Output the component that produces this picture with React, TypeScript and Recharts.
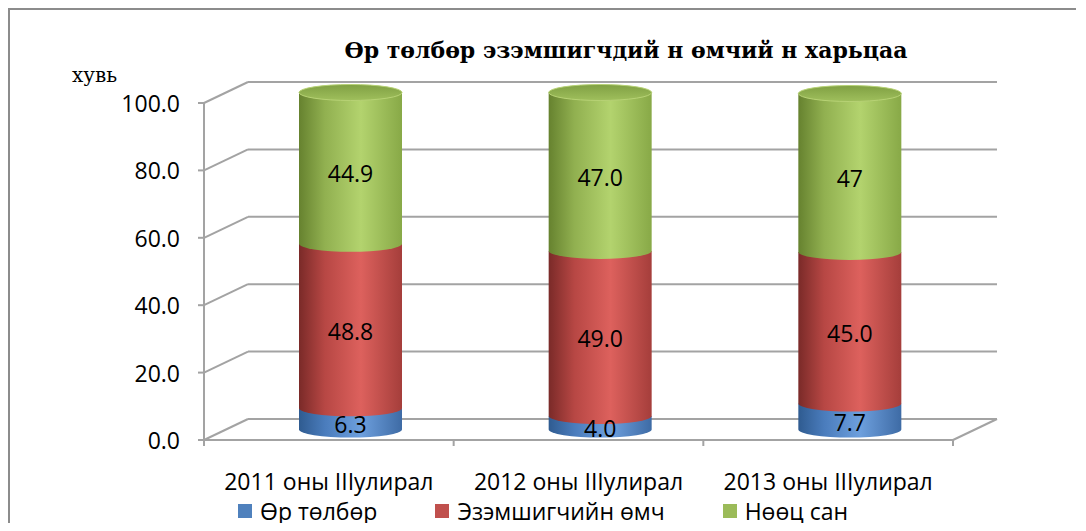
import React from 'react';
import { BarChart, Bar, XAxis, YAxis, CartesianGrid, LabelList } from 'recharts';

const categories = ['2011 оны IIIулирал', '2012 оны IIIулирал', '2013 оны IIIулирал'];
const debt = [6.3, 4.0, 7.7];
const equity = [48.8, 49.0, 45.0];
const reserve = [44.9, 47.0, 47];
const reserveLabels = ['44.9', '47.0', '47'];
const yTicks = [0, 20, 40, 60, 80, 100];
const seriesNames = ['Өр төлбөр', 'Эзэмшигчийн өмч', 'Нөөц сан'];
const seriesColors = ['#4f81bd', '#c0504d', '#9bbb59'];

const data = categories.map((category, i) => ({
  category,
  debt: debt[i],
  equity: equity[i],
  reserve: reserve[i],
  reserveLabel: reserveLabels[i],
}));

const FONT = '"Open Sans", sans-serif';
const FS = 23;
const GRID = '#a3a3a3';
// half depth of the fake 3d box
const DX = 22;
const DY = 10.5;
const RY = 8;

const gridLine = (props: any) => {
  const { x1, x2, y1, y, height, index } = props;
  const bottom = Math.abs(y1 - (y + height)) < 1;
  return (
    <g key={props.key}>
      <line x1={x1 + DX} y1={y1 - DY} x2={x2 + DX} y2={y1 - DY} stroke={GRID} strokeWidth={2} />
      <line x1={x1 - DX} y1={y1 + DY} x2={x1 + DX} y2={y1 - DY} stroke={GRID} strokeWidth={2} />
      {index === 0 && (
        <line x1={x1 - DX} y1={y + DY} x2={x1 - DX} y2={y + height + DY} stroke={GRID} strokeWidth={2} />
      )}
      {bottom && (
        <>
          <line x1={x1 - DX} y1={y1 + DY} x2={x2 - DX} y2={y1 + DY} stroke={GRID} strokeWidth={2} />
          <line x1={x2 - DX} y1={y1 + DY} x2={x2 + DX} y2={y1 - DY} stroke={GRID} strokeWidth={2} />
        </>
      )}
    </g>
  );
};

const YTick = (props: any) => {
  const { x, y, payload } = props;
  const fx = x - DX;
  const fy = y + DY;
  return (
    <g>
      <line x1={fx - 6} y1={fy} x2={fx} y2={fy} stroke={GRID} strokeWidth={2} />
      <text x={fx - 24} y={fy} textAnchor="end" dominantBaseline="central" fontFamily={FONT} fontSize={FS} fill="#000">
        {Number(payload.value).toFixed(1)}
      </text>
    </g>
  );
};

const XTick = (props: any) => {
  const { x, y, payload } = props;
  const fx = x - DX;
  const fy = y + DY;
  const off = payload.offset ?? 125;
  const last = payload.index === categories.length - 1;
  return (
    <g>
      <line x1={fx - off} y1={fy} x2={fx - off} y2={fy + 6} stroke={GRID} strokeWidth={2} />
      {last && <line x1={fx + off} y1={fy} x2={fx + off} y2={fy + 6} stroke={GRID} strokeWidth={2} />}
      <text x={fx} y={y + 51} textAnchor="middle" dominantBaseline="central" fontFamily={FONT} fontSize={FS} fill="#000">
        {payload.value}
      </text>
    </g>
  );
};

const Cylinder = (props: any) => {
  const { x, y, width, height, gradId, top } = props;
  if (!width || height == null) return null;
  const rx = width / 2;
  const d = `M${x},${y} L${x},${y + height} A${rx},${RY} 0 0 0 ${x + width},${y + height} L${x + width},${y} Z`;
  return (
    <g>
      <path d={d} fill={`url(#${gradId})`} />
      {top && <ellipse cx={x + rx} cy={y} rx={rx} ry={RY} fill={`url(#${gradId}-cap)`} stroke="#b7d275" strokeWidth={1} />}
    </g>
  );
};

const renderLabel = (props: any) => {
  const { x, y, width, height, value } = props;
  const text = typeof value === 'number' ? value.toFixed(1) : value;
  return (
    <text x={x + width / 2} y={y + height / 2 + 5} textAnchor="middle" dominantBaseline="central" fontFamily={FONT} fontSize={FS} fill="#000">
      {text}
    </text>
  );
};

export default function App() {
  return (
    <div
      style={{
        position: 'relative',
        width: 1066,
        height: 513,
        borderTop: '2px solid #8c8c8c',
        borderLeft: '2px solid #8c8c8c',
        background: '#fff',
      }}
    >
      <div
        style={{
          position: 'absolute',
          left: 216,
          top: 27,
          width: 800,
          textAlign: 'center',
          fontFamily: '"DejaVu Serif", serif',
          fontWeight: 'bold',
          fontSize: 22,
          lineHeight: '26px',
          color: '#000',
        }}
      >
        Өр төлбөр эзэмшигчдий н өмчий н харьцаа
      </div>
      <div
        style={{
          position: 'absolute',
          left: 62,
          top: 53,
          fontFamily: '"DejaVu Serif", serif',
          fontSize: 20,
          lineHeight: '24px',
          color: '#000',
        }}
      >
        хувь
      </div>
      <BarChart width={1066} height={513} data={data} margin={{ top: 82.5, right: 101, bottom: 92.5, left: 116 }}>
        <defs>
          <linearGradient id="g-blue" x1="0" y1="0" x2="1" y2="0">
            <stop offset="0%" stopColor="#2f5b90" />
            <stop offset="25%" stopColor="#4a7cbc" />
            <stop offset="60%" stopColor="#6d9fdd" />
            <stop offset="100%" stopColor="#3e6ba5" />
          </linearGradient>
          <linearGradient id="g-red" x1="0" y1="0" x2="1" y2="0">
            <stop offset="0%" stopColor="#7a2a28" />
            <stop offset="25%" stopColor="#b74744" />
            <stop offset="60%" stopColor="#dd615d" />
            <stop offset="100%" stopColor="#a53e3b" />
          </linearGradient>
          <linearGradient id="g-green" x1="0" y1="0" x2="1" y2="0">
            <stop offset="0%" stopColor="#66822f" />
            <stop offset="25%" stopColor="#91b050" />
            <stop offset="60%" stopColor="#b3d36e" />
            <stop offset="100%" stopColor="#88a947" />
          </linearGradient>
          <linearGradient id="g-green-cap" x1="0" y1="0" x2="0" y2="1">
            <stop offset="0%" stopColor="#80a043" />
            <stop offset="100%" stopColor="#9fbf5c" />
          </linearGradient>
        </defs>
        <CartesianGrid vertical={false} horizontal={gridLine} />
        <XAxis dataKey="category" height={1} axisLine={false} tickLine={false} tickSize={0} tickMargin={0} tick={<XTick />} interval={0} />
        <YAxis
          domain={[0, 100]}
          ticks={yTicks}
          width={100}
          axisLine={false}
          tickLine={false}
          tickSize={0}
          tickMargin={0}
          tick={<YTick />}
        />
        <Bar dataKey="debt" name={seriesNames[0]} stackId="a" fill={seriesColors[0]} barSize={103} isAnimationActive={false}
          shape={(p: any) => <Cylinder {...p} gradId="g-blue" />}>
          <LabelList dataKey="debt" content={renderLabel} />
        </Bar>
        <Bar dataKey="equity" name={seriesNames[1]} stackId="a" fill={seriesColors[1]} barSize={103} isAnimationActive={false}
          shape={(p: any) => <Cylinder {...p} gradId="g-red" />}>
          <LabelList dataKey="equity" content={renderLabel} />
        </Bar>
        <Bar dataKey="reserve" name={seriesNames[2]} stackId="a" fill={seriesColors[2]} barSize={103} isAnimationActive={false}
          shape={(p: any) => <Cylinder {...p} gradId="g-green" top />}>
          <LabelList dataKey="reserveLabel" content={renderLabel} />
        </Bar>
      </BarChart>
      <div
        style={{
          position: 'absolute',
          left: 0,
          top: 487,
          width: 1066,
          display: 'flex',
          justifyContent: 'center',
          gap: 58,
          fontFamily: FONT,
          fontSize: FS,
          lineHeight: '28px',
          color: '#000',
        }}
      >
        {seriesNames.map((name, i) => (
          <div key={name} style={{ display: 'flex', alignItems: 'center' }}>
            <span style={{ display: 'inline-block', width: 14, height: 14, background: seriesColors[i], marginRight: 8 }} />
            {name}
          </div>
        ))}
      </div>
    </div>
  );
}
